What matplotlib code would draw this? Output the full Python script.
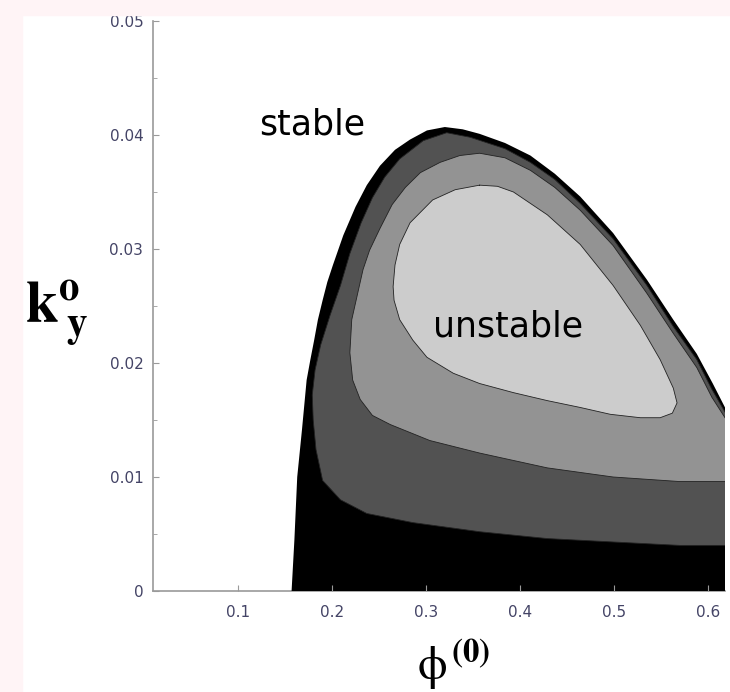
import matplotlib.pyplot as plt
from matplotlib.patches import Rectangle
from matplotlib.ticker import MultipleLocator, FuncFormatter

plt.rcParams['mathtext.fontset'] = 'stix'

# contour boundaries: phi^(0) and k_y^o
# level 1 (outermost, black)
outer_phi = [0.157, 0.160, 0.163, 0.168, 0.173, 0.177, 0.181, 0.185, 0.190, 0.195, 0.201,
             0.212, 0.225, 0.237, 0.251, 0.267, 0.283, 0.301, 0.320, 0.339, 0.357, 0.384,
             0.411, 0.437, 0.464, 0.499, 0.535, 0.563, 0.588, 0.605, 0.618]
outer_k = [0.0, 0.0045, 0.0100, 0.0141, 0.0185, 0.0203, 0.0220, 0.0238, 0.0255, 0.0271, 0.0286,
           0.0312, 0.0337, 0.0356, 0.0373, 0.0387, 0.0396, 0.0404, 0.0407, 0.0405, 0.0401, 0.0393,
           0.0382, 0.0366, 0.0346, 0.0314, 0.0273, 0.0238, 0.0208, 0.0182, 0.0161]

# level 2 (dark grey)
lev2_phi = [0.618, 0.570, 0.499, 0.429, 0.357, 0.286, 0.237, 0.209, 0.190, 0.183,
            0.180, 0.179, 0.182, 0.188, 0.198, 0.209, 0.219, 0.231, 0.243, 0.256,
            0.272, 0.297, 0.322, 0.347, 0.384, 0.411, 0.437, 0.464, 0.499, 0.535,
            0.563, 0.588, 0.604, 0.618]
lev2_k = [0.0040, 0.0040, 0.0043, 0.0046, 0.0052, 0.0060, 0.0068, 0.0080, 0.0097, 0.0124,
          0.0150, 0.0172, 0.0194, 0.0216, 0.0242, 0.0268, 0.0296, 0.0323, 0.0345, 0.0363,
          0.0379, 0.0395, 0.0402, 0.0398, 0.0388, 0.0376, 0.0361, 0.0340, 0.0309, 0.0268,
          0.0232, 0.0203, 0.0177, 0.0157]

# level 3 (middle grey)
lev3_phi = [0.618, 0.570, 0.499, 0.429, 0.357, 0.304, 0.262, 0.243, 0.230, 0.222,
            0.219, 0.221, 0.227, 0.233, 0.240, 0.251, 0.264, 0.278, 0.294, 0.315,
            0.336, 0.357, 0.384, 0.411, 0.437, 0.464, 0.499, 0.535, 0.563, 0.588,
            0.604, 0.618]
lev3_k = [0.0096, 0.0096, 0.0100, 0.0108, 0.0121, 0.0132, 0.0146, 0.0154, 0.0168, 0.0185,
          0.0209, 0.0238, 0.0260, 0.0282, 0.0299, 0.0318, 0.0339, 0.0354, 0.0367, 0.0376,
          0.0382, 0.0384, 0.0380, 0.0369, 0.0354, 0.0334, 0.0303, 0.0261, 0.0226, 0.0196,
          0.0170, 0.0152]

# level 4 (light grey, innermost)
lev4_phi = [0.357, 0.376, 0.393, 0.429, 0.464, 0.499, 0.528, 0.549, 0.563, 0.567,
            0.562, 0.549, 0.528, 0.496, 0.464, 0.429, 0.393, 0.357, 0.329, 0.301,
            0.286, 0.272, 0.266, 0.265, 0.267, 0.272, 0.283, 0.307, 0.331, 0.344, 0.357]
lev4_k = [0.0356, 0.0355, 0.0350, 0.0330, 0.0304, 0.0268, 0.0233, 0.0203, 0.0178, 0.0165,
          0.0156, 0.0152, 0.0152, 0.0155, 0.0161, 0.0167, 0.0174, 0.0182, 0.0191, 0.0205,
          0.0220, 0.0238, 0.0255, 0.0267, 0.0286, 0.0304, 0.0323, 0.0343, 0.0352, 0.0354, 0.0356]

yticks = [0, 0.01, 0.02, 0.03, 0.04, 0.05]
xticks = [0.1, 0.2, 0.3, 0.4, 0.5, 0.6]

fig = plt.figure(figsize=(7.3, 6.92), dpi=100)
fig.patches.append(Rectangle((0, 0), 22 / 730, 1, transform=fig.transFigure,
                             color='#fff4f6', zorder=0))
fig.patches.append(Rectangle((0, 1 - 15 / 692), 1, 15 / 692, transform=fig.transFigure,
                             color='#fff4f6', zorder=0))

ax = fig.add_axes([153 / 730, 1 - 591 / 692, 572 / 730, 570 / 692])

ax.fill(outer_phi + [outer_phi[-1], outer_phi[0]], outer_k + [0, 0], color='black', lw=0)
ax.fill(lev2_phi, lev2_k, color='#525252', lw=0)
ax.fill(lev3_phi, lev3_k, color='#939393', lw=0)
ax.fill(lev4_phi, lev4_k, color='#cccccc', lw=0)
for xs, ys in [(lev2_phi, lev2_k), (lev3_phi, lev3_k), (lev4_phi, lev4_k)]:
    ax.plot(xs, ys, color='#222222', lw=0.6, solid_joinstyle='round')

ax.text(0.179, 0.0409, 'stable', fontsize=25, ha='center', va='center')
ax.text(0.387, 0.0232, 'unstable', fontsize=25, ha='center', va='center')

ax.set_xlim(0.0096, 0.618)
ax.set_ylim(0, 0.05)
for s in ['top', 'right']:
    ax.spines[s].set_visible(False)
for s in ['left', 'bottom']:
    ax.spines[s].set_color('#9a9a9a')
    ax.spines[s].set_linewidth(1.2)
    ax.spines[s].set_zorder(0)

ax.set_xticks(xticks)
ax.set_yticks(yticks)
ax.yaxis.set_minor_locator(MultipleLocator(0.005))
ax.yaxis.set_major_formatter(FuncFormatter(lambda v, p: '0' if v == 0 else '%.2f' % v))
ax.xaxis.set_major_formatter(FuncFormatter(lambda v, p: '%.1f' % v))
ax.tick_params(axis='both', which='major', direction='in', length=4, color='#9a9a9a',
               labelsize=11, labelcolor='#444466')
ax.tick_params(axis='both', which='minor', direction='in', length=3, color='#9a9a9a')
ax.tick_params(axis='y', which='major', pad=7)
ax.tick_params(axis='x', which='major', pad=10)

fig.text(25 / 730, 1 - 323 / 692, r'$\mathbf{k}^{\mathbf{o}}_{\;\mathbf{y}}$',
         fontsize=42, ha='left', va='baseline')
fig.text(417 / 730, 1 - 680 / 692, r'$\mathrm{\phi}^{\,\mathbf{(0)}}$',
         fontsize=34, ha='left', va='baseline')

plt.savefig('out.png', dpi=100)
